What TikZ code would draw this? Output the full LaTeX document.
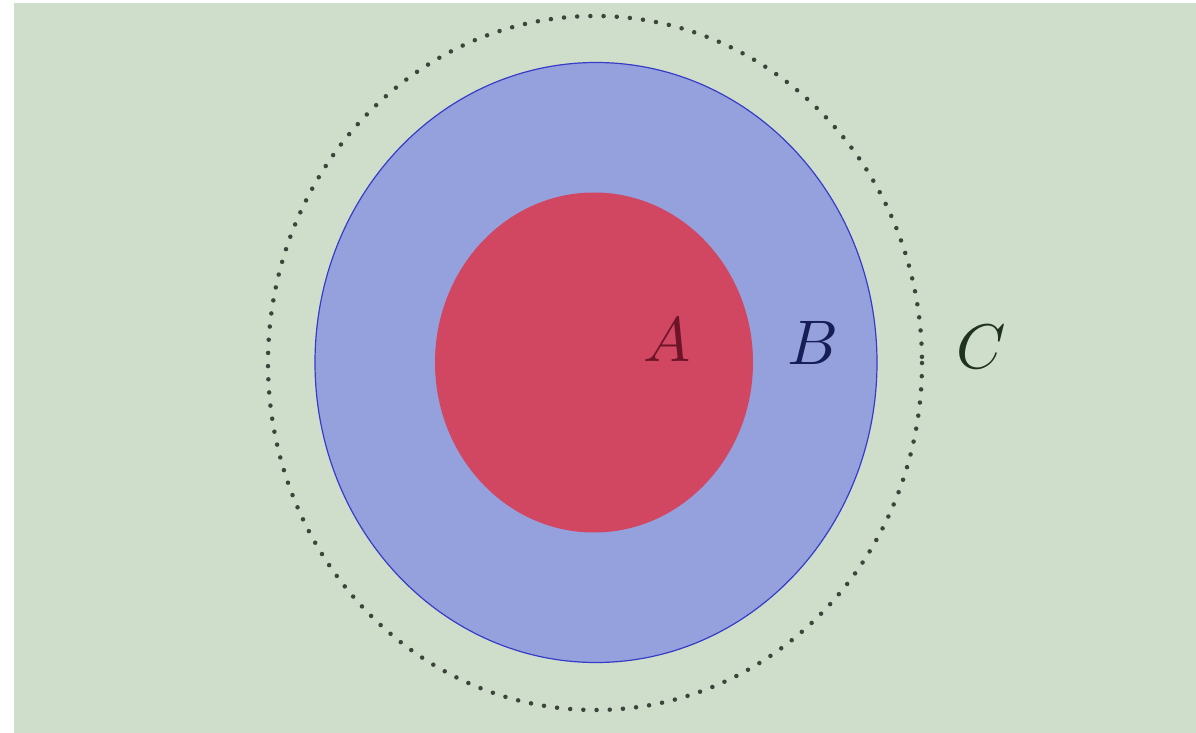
\documentclass[tikz,border=0pt]{standalone}
\usetikzlibrary{shapes.geometric}
\definecolor{bgC}{RGB}{207,222,203}
\definecolor{fillB}{RGB}{149,161,220}
\definecolor{edgeB}{RGB}{55,60,200}
\definecolor{fillA}{RGB}{209,70,97}
\definecolor{dotC}{RGB}{60,68,60}
\definecolor{txtA}{RGB}{110,20,40}
\definecolor{txtB}{RGB}{22,30,85}
\definecolor{txtC}{RGB}{30,50,30}
\newcommand{\biglbl}[1]{\scalebox{6.3}{$#1$}}
\tikzset{
  lbl/.style={inner sep=0pt},
  setB/.style={fill=fillB, draw=edgeB, line width=1.2pt},
  setA/.style={fill=fillA},
  setC/.style={draw=dotC, line width=4.5pt, line cap=round, dash pattern=on 0pt off 13.2pt}
}
\begin{document}
\begin{tikzpicture}[x=1pt,y=-1pt]
\useasboundingbox (0,0) rectangle (1196,733);
\fill[white] (0,0) rectangle (1196,733);
\fill[bgC] (14,3) rectangle (1196,733);
\draw[setC] (595,363) ellipse [x radius=327, y radius=347];
\draw[setB] (596,362.5) ellipse [x radius=281, y radius=300];
\fill[setA] (594,362.5) ellipse [x radius=159, y radius=170];
\node[lbl, text=txtA] (labA) at (667,340) {\biglbl{A}};
\node[lbl, text=txtB] (labB) at (813,343) {\biglbl{B}};
\node[lbl, text=txtC] (labC) at (981,347) {\biglbl{C}};
\end{tikzpicture}
\end{document}
